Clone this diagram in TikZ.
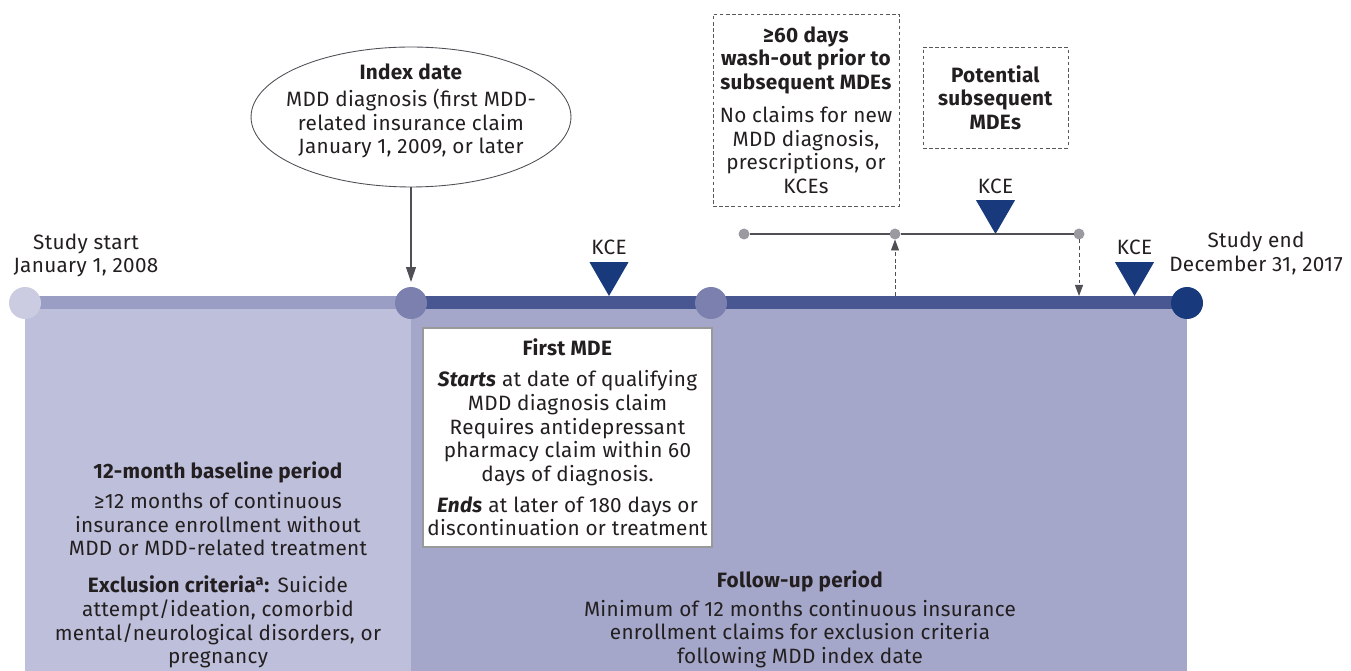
\documentclass[tikz,border=0pt]{standalone}
\usepackage{fontspec}
\setmainfont[LetterSpace=1.5]{Fira Sans}
\usetikzlibrary{arrows.meta,shapes.geometric}

\definecolor{ink}{HTML}{231F20}
\definecolor{basefill}{HTML}{BEBFDB}
\definecolor{basebar}{HTML}{9B9EC4}
\definecolor{followfill}{HTML}{A4A7C9}
\definecolor{followbar}{HTML}{485791}
\definecolor{startdot}{HTML}{CBCCE2}
\definecolor{middot}{HTML}{7B80AE}
\definecolor{navy}{HTML}{183A7D}
\definecolor{greydot}{HTML}{9A9BA0}
\definecolor{greyline}{HTML}{4F5056}

\begin{document}
\begin{tikzpicture}
  [x=0.02cm,y=-0.02cm,
   every node/.style={text=ink,font=\fontsize{11.8}{13.4}\selectfont,align=center,inner sep=0pt,outer sep=0pt},
   tdot/.style={circle,minimum size=0.64cm},
   kce/.style={regular polygon,regular polygon sides=3,shape border rotate=180,fill=navy,minimum size=0.9cm},
   wdot/.style={circle,fill=greydot,minimum size=0.22cm},
   dbox/.style={draw=ink!75,dash pattern=on 2pt off 1.5pt,line width=0.5pt}]
  \useasboundingbox (0,0) rectangle (1351,671);
  % periods and time line
  \fill[basefill] (25,303) rectangle (411,671);
  \fill[followfill] (411,303) rectangle (1187,671);
  \fill[basebar] (25,296) rectangle (411,309);
  \fill[followbar] (411,296) rectangle (1187,309);
  \node (start)[tdot,fill=startdot] at (25,303) {};
  \node (idxdot)[tdot,fill=middot] at (411,303) {};
  \node (mdedot)[tdot,fill=middot] at (711,303) {};
  \node (end)[tdot,fill=navy] at (1187,303) {};

  \node (starttext) at (86,255.5) {Study start\\January 1, 2008};
  \node (endtext) at (1256,253.5) {Study end\\December 31, 2017};

  % index date
  \node (idx)[ellipse,draw=greyline,line width=0.5pt,minimum width=6.4cm,minimum height=2.8cm] at (411,117) {};
  \node (idxtext) at (411,111) {\textbf{Index date}\\[2pt]MDD diagnosis (first MDD-\\related insurance claim\\January 1, 2009, or later};
  \draw[greyline,line width=0.6pt,-{Triangle[length=0.3cm,width=0.2cm]},shorten >=0.1cm] (idx) -- (idxdot);

  % KCE markers
  \node (kce1)[kce] at (609,273.5) {};
  \node (kce2)[kce] at (995.5,211.5) {};
  \node (kce3)[kce] at (1134.5,273.5) {};
  \node (kce1text) at (609,247) {KCE};
  \node (kce2text) at (995.5,186) {KCE};
  \node (kce3text) at (1134.5,247) {KCE};

  % subsequent episodes
  \node (w0)[wdot] at (744,234) {};
  \node (w1)[wdot] at (895,234) {};
  \node (w2)[wdot] at (1079,234) {};
  \foreach \from/\to in {w0/w1,w1/w2}
    \draw[greyline,line width=0.6pt] (\from) -- (\to);
  \coordinate (upfoot) at (895,296);
  \coordinate (downfoot) at (1079,296);
  \draw[greyline,line width=0.5pt,dash pattern=on 2.2pt off 1.6pt,-{Triangle[length=0.22cm,width=0.16cm]}] (upfoot) -- (w1);
  \draw[greyline,line width=0.5pt,dash pattern=on 2.2pt off 1.6pt,-{Triangle[length=0.22cm,width=0.16cm]}] (w2) -- (downfoot);

  \node (washout)[dbox,minimum width=3.72cm,minimum height=3.84cm] at (806,110)
    {\textbf{≥60 days}\\\textbf{wash-out prior to}\\\textbf{subsequent MDEs}\\[5.4pt]No claims for new\\MDD diagnosis,\\prescriptions, or\\KCEs};
  \node (potential)[dbox,minimum width=2.9cm,minimum height=2.02cm] at (995.5,97.5)
    {\textbf{Potential}\\\textbf{subsequent}\\\textbf{MDEs}};

  % first MDE
  \node (firstmde)[draw=black!40,line width=0.7pt,fill=white,minimum width=5.78cm,minimum height=4.38cm] at (567.5,437.5)
    {\textbf{First MDE}\\[4.3pt]\textbf{\textit{Starts}} at date of qualifying\\MDD diagnosis claim\\Requires antidepressant\\pharmacy claim within 60\\days of diagnosis.\\[4.3pt]\textbf{\textit{Ends}} at later of 180 days or\\discontinuation or treatment};

  % period texts
  \node (basetext) at (218,565) {\textbf{12-month baseline period}\\[3.7pt]≥12 months of continuous\\insurance enrollment without\\MDD or MDD-related treatment\\[7.7pt]\textbf{Exclusion criteria\textsuperscript{a}:} Suicide\\attempt/ideation, comorbid\\mental/neurological disorders, or\\pregnancy};
  \node (followtext) at (800,619) {\textbf{Follow-up period}\\[3.1pt]Minimum of 12 months continuous insurance\\enrollment claims for exclusion criteria\\following MDD index date};
\end{tikzpicture}
\end{document}
